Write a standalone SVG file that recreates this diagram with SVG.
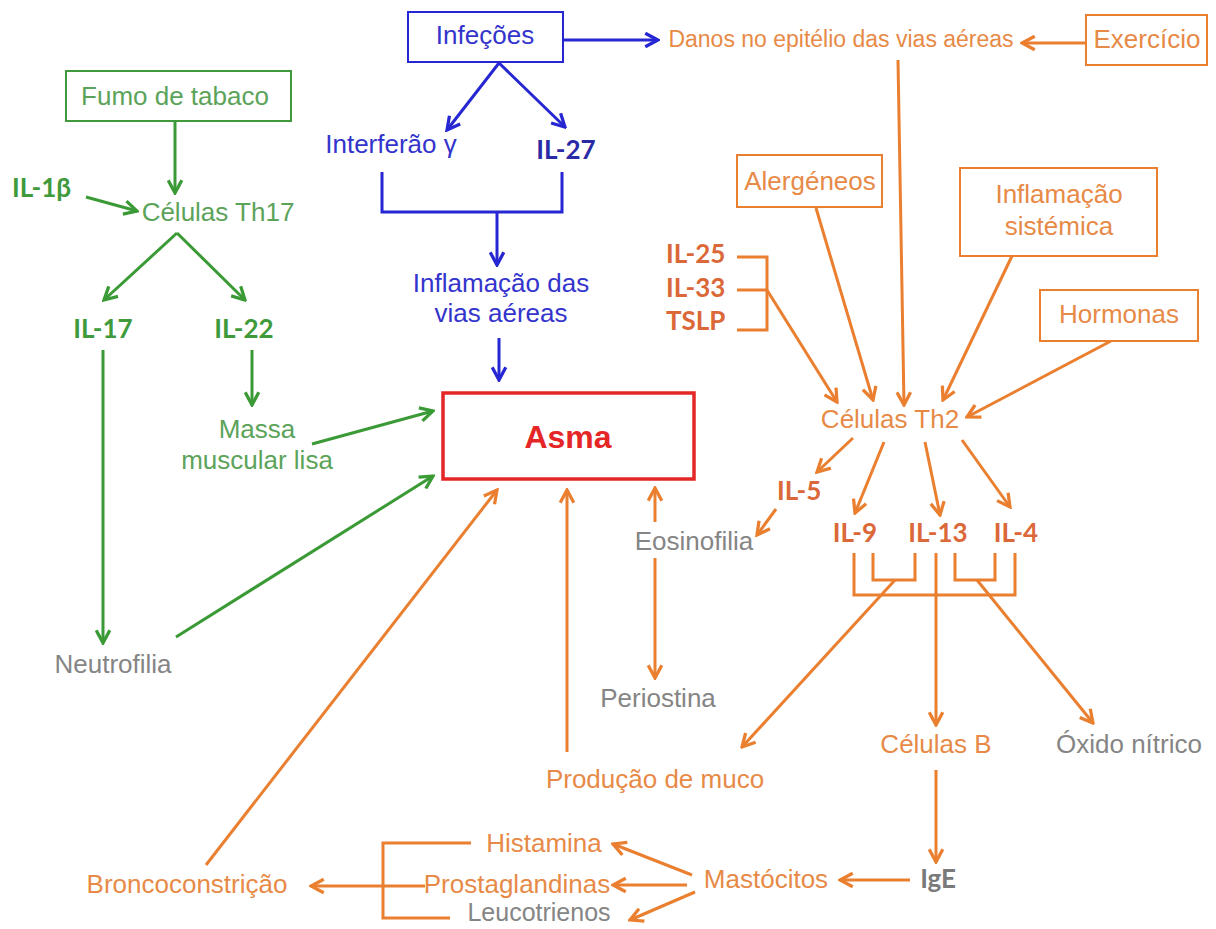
<svg xmlns="http://www.w3.org/2000/svg" width="1216" height="929" viewBox="0 0 1216 929">
<defs>
<style>
text{font-family:"Liberation Sans",Arial,sans-serif;font-size:26px}
.b{font-family:Lato,"Liberation Sans",sans-serif;font-weight:bold;font-size:26px}
.m{text-anchor:middle}
.gt{fill:#5ca35a}.gb{fill:#3f9a3c}
.bt{fill:#3434cc}.bb{fill:#2a2aa6}
.ot{fill:#e78a47}.ob{fill:#db6838}
.gr{fill:#858585}
.gl{stroke:#3a9a35;stroke-width:3;fill:none}
.bl{stroke:#2626d2;stroke-width:3;fill:none}
.ol{stroke:#ea7f30;stroke-width:3;fill:none}
.ga{marker-end:url(#ag)}.ba{marker-end:url(#ab)}.oa{marker-end:url(#ao)}
</style>
<marker id="ag" viewBox="0 0 12 12" refX="10.5" refY="6" markerWidth="17" markerHeight="17" markerUnits="userSpaceOnUse" orient="auto"><path d="M1.5,1.2 L10.5,6 L1.5,10.8" fill="none" stroke="#3a9a35" stroke-width="2.3"/></marker>
<marker id="ab" viewBox="0 0 12 12" refX="10.5" refY="6" markerWidth="17" markerHeight="17" markerUnits="userSpaceOnUse" orient="auto"><path d="M1.5,1.2 L10.5,6 L1.5,10.8" fill="none" stroke="#2626d2" stroke-width="2.3"/></marker>
<marker id="ao" viewBox="0 0 12 12" refX="10.5" refY="6" markerWidth="17" markerHeight="17" markerUnits="userSpaceOnUse" orient="auto"><path d="M1.5,1.2 L10.5,6 L1.5,10.8" fill="none" stroke="#ea7f30" stroke-width="2.3"/></marker>
</defs>
<rect width="1216" height="929" fill="#fff"/>

<g id="connectors">
<!-- green -->
<line class="gl ga" x1="175" y1="121" x2="175" y2="193"/>
<line class="gl ga" x1="86" y1="197" x2="137" y2="211"/>
<line class="gl ga" x1="177" y1="233" x2="104" y2="300"/>
<line class="gl ga" x1="177" y1="233" x2="245" y2="300"/>
<line class="gl ga" x1="103" y1="350" x2="103" y2="643"/>
<line class="gl ga" x1="252" y1="350" x2="252" y2="405"/>
<line class="gl ga" x1="312" y1="444" x2="433" y2="411"/>
<line class="gl ga" x1="176" y1="637" x2="433" y2="476"/>
<!-- blue -->
<line class="bl ba" x1="563" y1="40" x2="658" y2="40"/>
<line class="bl ba" x1="499" y1="63" x2="447" y2="130"/>
<line class="bl ba" x1="499" y1="63" x2="565" y2="127"/>
<polyline class="bl" points="382,172 382,212 562,212 562,172"/>
<line class="bl ba" x1="497" y1="212" x2="497" y2="265"/>
<line class="bl ba" x1="499" y1="338" x2="499" y2="380"/>
<!-- orange -->
<line class="ol oa" x1="1085" y1="43" x2="1022" y2="43"/>
<line class="ol oa" x1="898" y1="60" x2="904" y2="405"/>
<line class="ol oa" x1="816" y1="208" x2="873" y2="400"/>
<line class="ol oa" x1="1012" y1="256" x2="943" y2="400"/>
<line class="ol oa" x1="1111" y1="341" x2="967" y2="417"/>
<polyline class="ol" points="737,257 767,257 767,330 737,330"/>
<line class="ol" x1="737" y1="290" x2="767" y2="290"/>
<line class="ol oa" x1="767" y1="290" x2="837" y2="402"/>
<line class="ol oa" x1="853" y1="438" x2="817" y2="472"/>
<line class="ol oa" x1="884" y1="442" x2="855" y2="513"/>
<line class="ol oa" x1="925" y1="442" x2="940" y2="515"/>
<line class="ol oa" x1="962" y1="440" x2="1010" y2="507"/>
<line class="ol oa" x1="776" y1="509" x2="757" y2="535"/>
<line class="ol oa" x1="655" y1="522" x2="655" y2="488"/>
<line class="ol oa" x1="655" y1="558" x2="655" y2="678"/>
<line class="ol oa" x1="567" y1="752" x2="567" y2="490"/>
<line class="ol oa" x1="206" y1="865" x2="497" y2="490"/>
<polyline class="ol" points="854,553 854,595 1015,595 1015,553"/>
<polyline class="ol" points="873,553 873,580 915,580 915,553"/>
<polyline class="ol" points="955,553 955,580 995,580 995,553"/>
<line class="ol oa" x1="936" y1="553" x2="936" y2="725"/>
<line class="ol oa" x1="895" y1="580" x2="742" y2="747"/>
<line class="ol oa" x1="977" y1="580" x2="1093" y2="723"/>
<line class="ol oa" x1="936" y1="770" x2="936" y2="862"/>
<line class="ol oa" x1="910" y1="880" x2="840" y2="880"/>
<line class="ol oa" x1="692" y1="875" x2="613" y2="844"/>
<line class="ol oa" x1="687" y1="885" x2="613" y2="885"/>
<line class="ol oa" x1="695" y1="892" x2="630" y2="920"/>
<polyline class="ol" points="471,843 383,843 383,918 450,918"/>
<line class="ol" x1="425" y1="886" x2="383" y2="886"/>
<line class="ol oa" x1="383" y1="886" x2="311" y2="886"/>
</g>

<g id="fumo"><rect x="66" y="71" width="225" height="50" fill="none" stroke="#3f9a3c" stroke-width="2"/><text class="gt m" x="175" y="105">Fumo de tabaco</text></g>
<g id="il1b"><text class="b gb" x="12" y="197">IL-1β</text></g>
<g id="th17"><text class="gt m" x="218" y="221">Células Th17</text></g>
<g id="il17"><text class="b gb m" x="103" y="338">IL-17</text></g>
<g id="il22"><text class="b gb m" x="244" y="338">IL-22</text></g>
<g id="massa"><text class="gt m" x="257" y="438">Massa</text><text class="gt m" x="257" y="469">muscular lisa</text></g>
<g id="neutrofilia"><text class="gr m" x="113" y="673">Neutrofilia</text></g>

<g id="infecoes"><rect x="408" y="12" width="155" height="50" fill="none" stroke="#2626d2" stroke-width="2"/><text class="bt m" x="485" y="44">Infeções</text></g>
<g id="interferao"><text class="bt m" x="391" y="153">Interferão γ</text></g>
<g id="il27"><text class="b bb m" x="566" y="159">IL-27</text></g>
<g id="inflamacao-vias"><text class="bt m" x="501" y="292">Inflamação das</text><text class="bt m" x="501" y="322">vias aéreas</text></g>

<g id="asma"><rect x="443" y="393" width="251" height="86" fill="none" stroke="#e42626" stroke-width="3.5"/><text class="m" x="568" y="448" style="font-weight:bold;font-size:32px;fill:#e42626">Asma</text></g>

<g id="danos"><text class="ot m" x="841" y="47" style="font-size:23px">Danos no epitélio das vias aéreas</text></g>
<g id="exercicio"><rect x="1086" y="15" width="121" height="50" fill="none" stroke="#ea7f30" stroke-width="2"/><text class="ot m" x="1147" y="48">Exercício</text></g>
<g id="alergeneos"><rect x="737" y="155" width="145" height="52" fill="none" stroke="#ea7f30" stroke-width="2"/><text class="ot m" x="810" y="190">Alergéneos</text></g>
<g id="inflamacao-sist"><rect x="960" y="168" width="197" height="88" fill="none" stroke="#ea7f30" stroke-width="2"/><text class="ot m" x="1059" y="203">Inflamação</text><text class="ot m" x="1059" y="235">sistémica</text></g>
<g id="hormonas"><rect x="1040" y="290" width="158" height="51" fill="none" stroke="#ea7f30" stroke-width="2"/><text class="ot m" x="1119" y="323">Hormonas</text></g>
<g id="il25"><text class="b ob" x="666" y="263">IL-25</text></g>
<g id="il33"><text class="b ob" x="666" y="297">IL-33</text></g>
<g id="tslp"><text class="b ob" x="666" y="330">TSLP</text></g>
<g id="th2"><text class="ot m" x="890" y="428">Células Th2</text></g>
<g id="il5"><text class="b ob" x="777" y="500">IL-5</text></g>
<g id="il9"><text class="b ob m" x="855" y="542">IL-9</text></g>
<g id="il13"><text class="b ob m" x="938" y="542">IL-13</text></g>
<g id="il4"><text class="b ob m" x="1016" y="542">IL-4</text></g>
<g id="eosinofilia"><text class="gr m" x="694" y="550">Eosinofilia</text></g>
<g id="periostina"><text class="gr m" x="658" y="707">Periostina</text></g>
<g id="muco"><text class="ot m" x="655" y="788">Produção de muco</text></g>
<g id="celulasb"><text class="ot m" x="936" y="753">Células B</text></g>
<g id="oxido"><text class="gr m" x="1129" y="753">Óxido nítrico</text></g>
<g id="ige"><text class="b m" x="938" y="888" style="fill:#7a7a7a">IgE</text></g>
<g id="mastocitos"><text class="ot m" x="766" y="888">Mastócitos</text></g>
<g id="histamina"><text class="ot m" x="544" y="852">Histamina</text></g>
<g id="prostaglandinas"><text class="ot m" x="517" y="893">Prostaglandinas</text></g>
<g id="leucotrienos"><text class="gr m" x="539" y="921" style="font-size:25px">Leucotrienos</text></g>
<g id="bronco"><text class="ot m" x="187" y="893">Broncoconstrição</text></g>
</svg>
